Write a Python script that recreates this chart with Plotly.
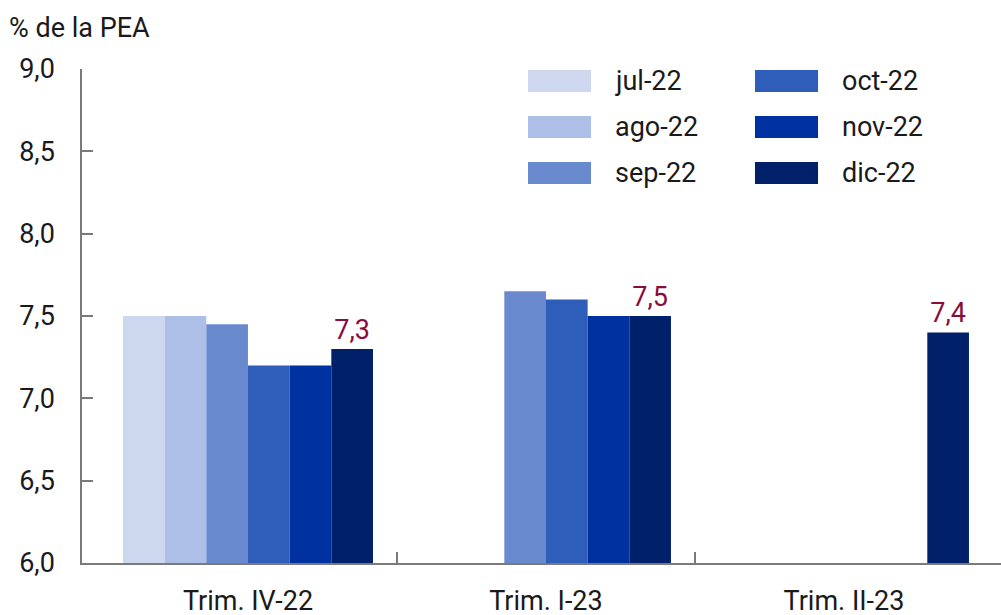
import plotly.graph_objects as go

# Quarters on the x axis and monthly vintages of the estimate
quarters = ["Trim. IV-22", "Trim. I-23", "Trim. II-23"]
months = ["jul-22", "ago-22", "sep-22", "oct-22", "nov-22", "dic-22"]
colors = ["#CDD8EF", "#ADBFE6", "#6A8AD0", "#2F5DBA", "#0031A0", "#00216A"]

jul_22 = [7.5, None, None]
ago_22 = [7.5, None, None]
sep_22 = [7.45, 7.65, None]
oct_22 = [7.2, 7.6, None]
nov_22 = [7.2, 7.5, None]
dic_22 = [7.3, 7.5, 7.4]
series = [jul_22, ago_22, sep_22, oct_22, nov_22, dic_22]

y_ticks = [6.0, 6.5, 7.0, 7.5, 8.0, 8.5, 9.0]

FONT = "Roboto"
FS = 27
TEXT = "#1a1a1a"
AXIS = "#7a7a7a"
LABEL_RED = "#8C0B3C"

x_pos = list(range(len(quarters)))

fig = go.Figure()
for name, vals, col in zip(months, series, colors):
    is_last = name == months[-1]
    fig.add_trace(go.Bar(
        x=x_pos, y=vals, name=name,
        marker=dict(color=col, line=dict(width=0)),
        texttemplate="%{y:.1f}" if is_last else None,
        textposition="outside" if is_last else "none",
        textfont=dict(family=FONT, size=FS, color=LABEL_RED),
        cliponaxis=False,
        showlegend=False,
    ))

# Two-column legend drawn as swatches + labels
col_x = [0.4853, 0.7323]
row_y = [0.9757, 0.8826, 0.7895]
sw_w, sw_h = 0.0686, 0.0445
for i, (name, col) in enumerate(zip(months, colors)):
    cx = col_x[i // 3]
    cy = row_y[i % 3]
    fig.add_shape(type="rect", xref="paper", yref="paper",
                  x0=cx, x1=cx + sw_w, y0=cy - sw_h / 2, y1=cy + sw_h / 2,
                  fillcolor=col, line=dict(width=0), layer="above")
    fig.add_annotation(xref="paper", yref="paper", x=cx + sw_w + 0.024, y=cy,
                       text=name, showarrow=False, xanchor="left", yanchor="middle",
                       font=dict(family=FONT, size=FS, color=TEXT))

# Axis unit title
fig.add_annotation(xref="paper", yref="paper", x=-0.082, y=1.083,
                   text="% de la PEA", showarrow=False, xanchor="left", yanchor="middle",
                   font=dict(family=FONT, size=FS, color=TEXT))

fig.update_layout(
    width=1001, height=615,
    margin=dict(l=82, r=0, t=69, b=52),
    paper_bgcolor="white", plot_bgcolor="white",
    barmode="group", bargap=0.161, bargroupgap=0,
    separators=",.",
    font=dict(family=FONT, size=FS, color=TEXT),
    showlegend=False,
    xaxis=dict(
        range=[-0.557, 2.527],
        tickmode="array", tickvals=x_pos, ticktext=quarters,
        ticks="", showgrid=False, zeroline=False,
        showline=True, linecolor=AXIS, linewidth=1.5,
        tickfont=dict(family=FONT, size=FS, color=TEXT),
        ticklabelstandoff=13, automargin=False,
        minor=dict(tickvals=[0.5, 1.5], ticks="inside", ticklen=11,
                   tickcolor=AXIS, tickwidth=1.5, showgrid=False),
    ),
    yaxis=dict(
        range=[6.0, 9.0],
        tickmode="array", tickvals=y_ticks, tickformat=".1f",
        ticks="inside", ticklen=11, tickcolor=AXIS, tickwidth=1.5,
        showgrid=False, zeroline=False,
        showline=True, linecolor=AXIS, linewidth=1.5,
        tickfont=dict(family=FONT, size=FS, color=TEXT),
        ticklabelstandoff=20, automargin=False,
    ),
)

fig.write_html("out.html")
